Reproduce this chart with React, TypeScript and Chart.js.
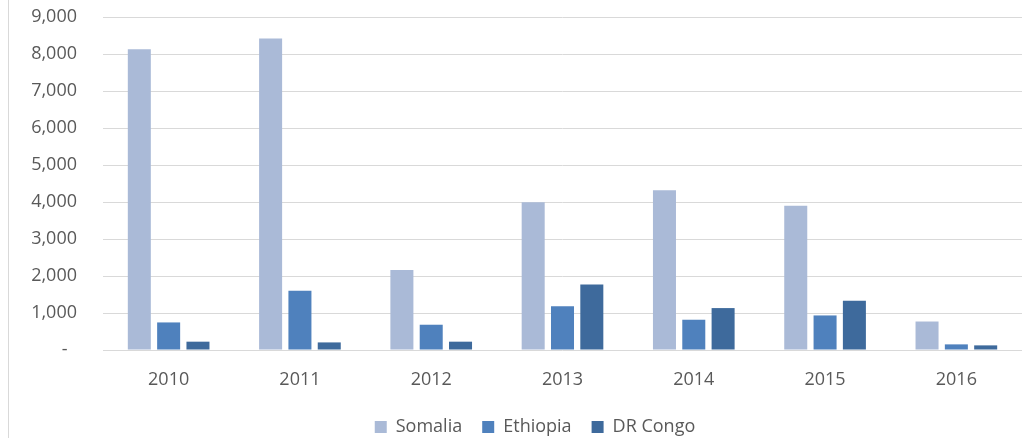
import React, { useEffect, useRef } from "react";
import { Chart, registerables } from "chart.js";

Chart.register(...registerables);

const years = ["2010", "2011", "2012", "2013", "2014", "2015", "2016"];
const somalia = [8130, 8420, 2160, 3990, 4320, 3900, 770];
const ethiopia = [745, 1600, 683, 1180, 818, 934, 152];
const drCongo = [225, 205, 225, 1770, 1133, 1331, 125];
const yTickValues = [0, 1000, 2000, 3000, 4000, 5000, 6000, 7000, 8000, 9000];

const FONT = "'Open Sans', 'Liberation Sans', sans-serif";
const TEXT = "#595959";

const legendShift = {
  id: "legendShift",
  afterLayout(chart: any) {
    const lg = chart.legend;
    if (!lg) return;
    const dx = 24;
    const dy = 8;
    lg.left += dx;
    lg.right += dx;
    lg.top += dy;
    lg.bottom += dy;
  },
};

export default function App() {
  const ref = useRef<HTMLCanvasElement | null>(null);

  useEffect(() => {
    if (!ref.current) return;
    const chart = new Chart(ref.current, {
      type: "bar",
      data: {
        labels: years,
        datasets: [
          { label: "Somalia", data: somalia, backgroundColor: "#AABAD7" },
          { label: "Ethiopia", data: ethiopia, backgroundColor: "#4F81BD" },
          { label: "DR Congo", data: drCongo, backgroundColor: "#3E6A9C" },
        ],
      },
      plugins: [legendShift],
      options: {
        animation: false,
        responsive: false,
        maintainAspectRatio: false,
        datasets: {
          bar: { categoryPercentage: 0.67, barPercentage: 0.785 },
        },
        layout: { padding: { left: 0, right: 3, top: 17, bottom: 0 } },
        scales: {
          x: {
            grid: { display: false, drawTicks: false },
            border: { display: false },
            ticks: { color: TEXT, font: { family: FONT, size: 18 }, padding: 19 },
            afterFit: (s: any) => {
              s.height = 40;
            },
          },
          y: {
            min: 0,
            max: 9000,
            afterBuildTicks: (s: any) => {
              s.ticks = yTickValues.map((v) => ({ value: v }));
            },
            grid: { color: "#D9D9D9", lineWidth: 1, drawTicks: false },
            border: { display: false },
            ticks: {
              color: TEXT,
              font: { family: FONT, size: 18 },
              padding: 26,
              callback: (v: any) => (Number(v) === 0 ? "-  " : Number(v).toLocaleString("en-US")),
            },
            afterFit: (s: any) => {
              s.width = 103;
              s.paddingTop = 0;
              s.paddingBottom = 0;
            },
          },
        },
        plugins: {
          legend: {
            position: "bottom",
            labels: {
              boxWidth: 12,
              boxHeight: 12,
              padding: 20,
              color: TEXT,
              font: { family: FONT, size: 18 },
            },
          },
          tooltip: { enabled: false },
        },
      },
    });
    return () => chart.destroy();
  }, []);

  return (
    <div style={{ position: "fixed", left: 0, top: 0, width: 1025, height: 438, background: "#fff" }}>
      <canvas ref={ref} width={1025} height={438} style={{ display: "block" }} />
      <div style={{ position: "absolute", left: 8, top: 0, width: 1, height: 438, background: "#D9D9D9" }} />
    </div>
  );
}
